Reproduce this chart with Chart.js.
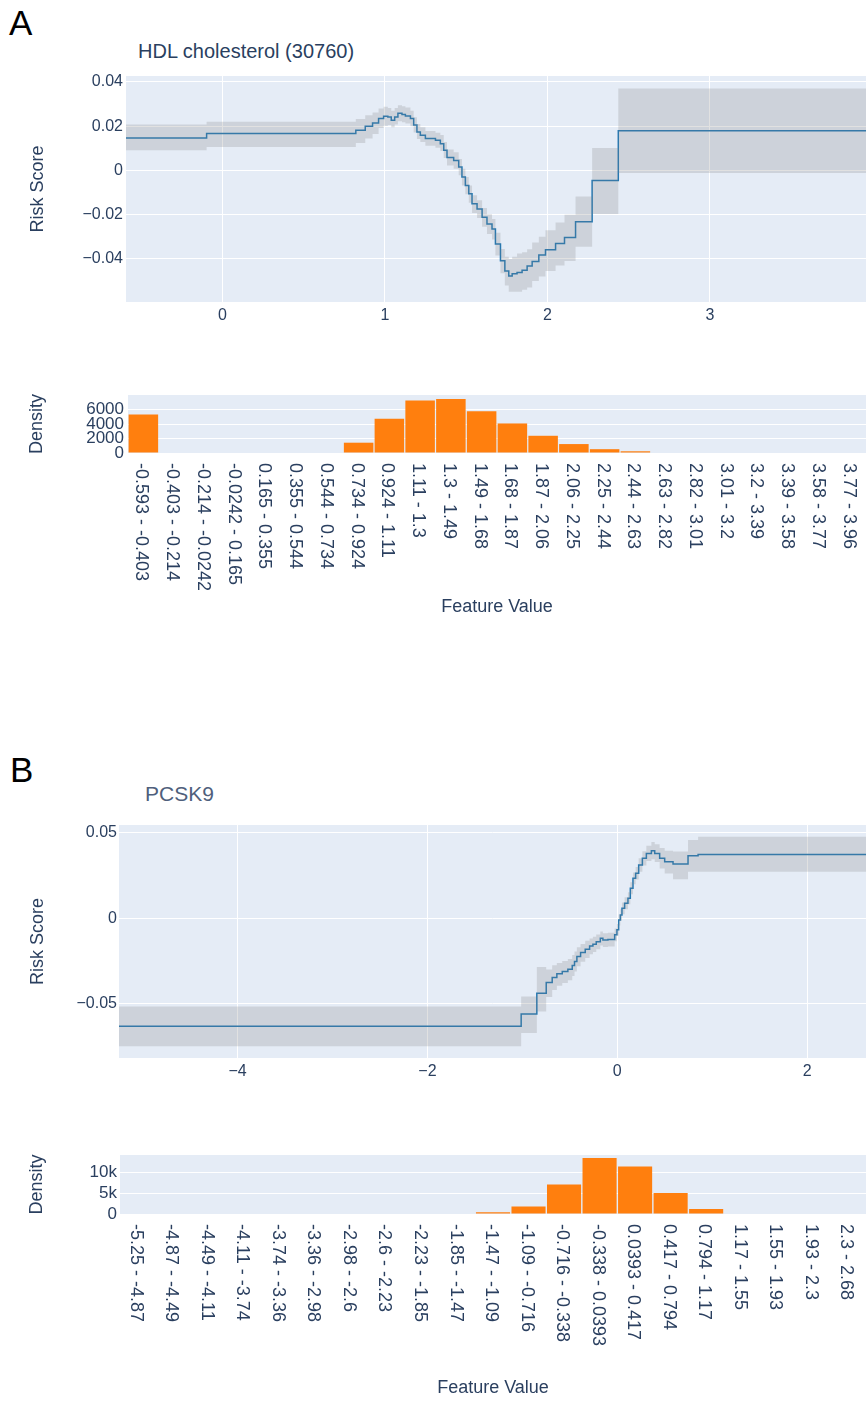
<!DOCTYPE html>
<html>
<head>
<meta charset="utf-8">
<script src="https://cdn.jsdelivr.net/npm/chart.js@4.4.0/dist/chart.umd.min.js"></script>
<style>
  body { margin: 0; background: #fff; width: 866px; height: 1401px; overflow: hidden; position: relative;
         font-family: "Liberation Sans", Arial, sans-serif; }
  .box { position: absolute; left: 0; width: 866px; }
  .panel { position: absolute; font-size: 35px; line-height: 1; color: #000; }
  .title { position: absolute; font-size: 20px; line-height: 1; color: #2a3f5f; white-space: nowrap; }
</style>
</head>
<body>
<div class="panel" style="left:9px; top:5px">A</div>
<div class="title" style="left:138px; top:41px">HDL cholesterol (30760)</div>
<div class="box" style="top:60px; height:268px"><canvas id="lineA"></canvas></div>
<div class="box" style="top:370px; height:250px"><canvas id="histA"></canvas></div>

<div class="panel" style="left:10px; top:752px">B</div>
<div class="title" style="left:145px; top:783px; color:#4f5f7c; font-size:21px">PCSK9</div>
<div class="box" style="top:810px; height:272px"><canvas id="lineB"></canvas></div>
<div class="box" style="top:1130px; height:271px"><canvas id="histB"></canvas></div>

<script>
// ---- A: HDL cholesterol ----
var stepXA = [-0.593, -0.097, 0.821, 0.879, 0.924, 0.961, 0.992, 1.018, 1.039, 1.060, 1.080, 1.105, 1.126,
  1.157, 1.177, 1.197, 1.218, 1.249, 1.311, 1.341, 1.362, 1.382, 1.423, 1.454, 1.474, 1.495, 1.516, 1.536,
  1.567, 1.598, 1.628, 1.659, 1.680, 1.711, 1.738, 1.762, 1.783, 1.813, 1.844, 1.875, 1.906, 1.947, 1.988,
  2.050, 2.105, 2.173, 2.275, 2.436, 3.96];
var riskA = [0.0147, 0.0167, 0.0182, 0.0200, 0.0215, 0.0235, 0.0245, 0.0242, 0.0227, 0.0242, 0.0258, 0.0253, 0.0246,
  0.0235, 0.0205, 0.0174, 0.0159, 0.0144, 0.0136, 0.0121, 0.0091, 0.0058, 0.0045, 0.0015, -0.0030, -0.0068, -0.0106, -0.0151,
  -0.0174, -0.0212, -0.0242, -0.0265, -0.0333, -0.0409, -0.0455, -0.0477, -0.0467, -0.0462, -0.0451, -0.0432, -0.0412, -0.0383, -0.0359,
  -0.0330, -0.0303, -0.0232, -0.0045, 0.0179, 0.0179];
var lowA = [0.0091, 0.0106, 0.0124, 0.0144, 0.0165, 0.0192, 0.0202, 0.0205, 0.0195, 0.0208, 0.0222, 0.0218, 0.0212,
  0.0200, 0.0172, 0.0142, 0.0128, 0.0112, 0.0102, 0.0088, 0.0056, 0.0022, 0.0008, -0.0022, -0.0068, -0.0108, -0.0146, -0.0192,
  -0.0215, -0.0255, -0.0288, -0.0312, -0.0385, -0.0465, -0.0520, -0.0549, -0.0549, -0.0549, -0.0540, -0.0529, -0.0500, -0.0480, -0.0455,
  -0.0430, -0.0410, -0.0345, -0.0197, -0.0012, -0.0012];
var highA = [0.0208, 0.0220, 0.0232, 0.0250, 0.0262, 0.0280, 0.0288, 0.0282, 0.0270, 0.0282, 0.0295, 0.0290, 0.0284,
  0.0270, 0.0240, 0.0210, 0.0195, 0.0178, 0.0170, 0.0160, 0.0128, 0.0095, 0.0082, 0.0052, 0.0008, -0.0030, -0.0068, -0.0112,
  -0.0135, -0.0170, -0.0198, -0.0220, -0.0282, -0.0355, -0.0390, -0.0401, -0.0390, -0.0376, -0.0370, -0.0356, -0.0326, -0.0300, -0.0270,
  -0.0235, -0.0200, -0.0118, 0.0101, 0.0371, 0.0371];
var xTicksA = [0, 1, 2, 3];
var yTicksA = [-0.04, -0.02, 0, 0.02, 0.04];

var binsA = ['-0.593 - -0.403', '-0.403 - -0.214', '-0.214 - -0.0242', '-0.0242 - 0.165', '0.165 - 0.355',
  '0.355 - 0.544', '0.544 - 0.734', '0.734 - 0.924', '0.924 - 1.11', '1.11 - 1.3', '1.3 - 1.49', '1.49 - 1.68',
  '1.68 - 1.87', '1.87 - 2.06', '2.06 - 2.25', '2.25 - 2.44', '2.44 - 2.63', '2.63 - 2.82', '2.82 - 3.01',
  '3.01 - 3.2', '3.2 - 3.39', '3.39 - 3.58', '3.58 - 3.77', '3.77 - 3.96'];
var countsA = [5340, 0, 0, 0, 0, 0, 0, 1430, 4770, 7290, 7490, 5810, 4100, 2390, 1240, 530, 240, 0, 0, 0, 0, 0, 0, 0];
var densTicksA = [0, 2000, 4000, 6000];

// ---- B: PCSK9 ----
var stepXB = [-5.25, -1.013, -0.848, -0.749, -0.686, -0.637, -0.580, -0.521, -0.475, -0.451, -0.426, -0.387,
  -0.338, -0.292, -0.257, -0.222, -0.179, -0.152, -0.099, -0.028, -0.004, 0.014, 0.032, 0.049, 0.077, 0.112,
  0.137, 0.165, 0.193, 0.225, 0.264, 0.306, 0.359, 0.394, 0.446, 0.499, 0.587, 0.745, 0.851, 2.68];
var riskB = [-0.0632, -0.0560, -0.0438, -0.0376, -0.0347, -0.0325, -0.0311, -0.0298, -0.0276, -0.0253, -0.0224, -0.0201,
  -0.0181, -0.0162, -0.0152, -0.0137, -0.0117, -0.0127, -0.0124, -0.0097, -0.0068, -0.0010, 0.0019, 0.0058, 0.0088, 0.0117,
  0.0175, 0.0233, 0.0263, 0.0311, 0.0350, 0.0379, 0.0394, 0.0379, 0.0350, 0.0330, 0.0317, 0.0365, 0.0373, 0.0373];
var lowB = [-0.0749, -0.0671, -0.0545, -0.0460, -0.0420, -0.0395, -0.0378, -0.0362, -0.0338, -0.0312, -0.0280, -0.0255,
  -0.0232, -0.0210, -0.0198, -0.0182, -0.0160, -0.0168, -0.0165, -0.0135, -0.0102, -0.0042, -0.0014, 0.0024, 0.0053, 0.0082,
  0.0140, 0.0198, 0.0226, 0.0272, 0.0308, 0.0335, 0.0345, 0.0328, 0.0290, 0.0262, 0.0228, 0.0272, 0.0272, 0.0272];
var highB = [-0.0516, -0.0457, -0.0285, -0.0300, -0.0275, -0.0262, -0.0250, -0.0238, -0.0215, -0.0195, -0.0170, -0.0150,
  -0.0132, -0.0118, -0.0108, -0.0095, -0.0078, -0.0088, -0.0085, -0.0060, -0.0034, 0.0022, 0.0052, 0.0092, 0.0123, 0.0152,
  0.0210, 0.0268, 0.0300, 0.0350, 0.0392, 0.0423, 0.0445, 0.0432, 0.0410, 0.0395, 0.0390, 0.0457, 0.0476, 0.0476];
var xTicksB = [-4, -2, 0, 2];
var yTicksB = [-0.05, 0, 0.05];

var binsB = ['-5.25 - -4.87', '-4.87 - -4.49', '-4.49 - -4.11', '-4.11 - -3.74', '-3.74 - -3.36', '-3.36 - -2.98',
  '-2.98 - -2.6', '-2.6 - -2.23', '-2.23 - -1.85', '-1.85 - -1.47', '-1.47 - -1.09', '-1.09 - -0.716',
  '-0.716 - -0.338', '-0.338 - 0.0393', '0.0393 - 0.417', '0.417 - 0.794', '0.794 - 1.17', '1.17 - 1.55',
  '1.55 - 1.93', '1.93 - 2.3', '2.3 - 2.68'];
var countsB = [0, 0, 0, 0, 0, 0, 0, 0, 0, 0, 400, 1780, 7070, 13420, 11370, 5030, 1220, 0, 0, 0, 0];
var densTicksB = [0, 5000, 10000];

var FONT = '"Liberation Sans", Arial, sans-serif';
var INK = '#2a3f5f';

// plotly-like plot background
var plotBg = {
  id: 'plotBg',
  beforeDraw: function (chart) {
    var a = chart.chartArea, ctx = chart.ctx;
    ctx.save();
    ctx.fillStyle = '#E5ECF6';
    ctx.fillRect(a.left, a.top, a.right - a.left, a.bottom - a.top);
    ctx.restore();
  }
};

// category labels turned 90deg clockwise, reading downwards
var downLabels = {
  id: 'downLabels',
  afterDraw: function (chart) {
    var s = chart.scales.x, ctx = chart.ctx;
    ctx.save();
    ctx.font = '18px ' + FONT;
    ctx.fillStyle = INK;
    ctx.textAlign = 'left';
    ctx.textBaseline = 'middle';
    chart.data.labels.forEach(function (lab, i) {
      ctx.save();
      ctx.translate(s.getPixelForValue(i) - 2, chart.chartArea.bottom + 10);
      ctx.rotate(Math.PI / 2);
      ctx.fillText(lab, 0, 0);
      ctx.restore();
    });
    ctx.restore();
  }
};

function minus(v) {
  return v < 0 ? '\u2212' + String(-v) : String(v);
}

function steps(xs, ys) {
  return xs.map(function (x, i) { return { x: x, y: ys[i] }; });
}

function riskChart(id, xs, mid, lo, hi, o) {
  var clear = 'rgba(0,0,0,0)';
  return new Chart(document.getElementById(id), {
    type: 'line',
    data: {
      datasets: [
        { data: steps(xs, hi), stepped: true, borderColor: clear, borderWidth: 0, pointRadius: 0,
          fill: '+1', backgroundColor: 'rgba(128,128,128,0.24)' },
        { data: steps(xs, lo), stepped: true, borderColor: clear, borderWidth: 0, pointRadius: 0, fill: false },
        { data: steps(xs, mid), stepped: true, borderColor: '#1f77b4', borderWidth: 1.5, pointRadius: 0, fill: false }
      ]
    },
    options: {
      responsive: true,
      maintainAspectRatio: false,
      animation: false,
      layout: { padding: { top: o.padTop, right: 0, bottom: 0, left: 0 } },
      plugins: { legend: { display: false }, tooltip: { enabled: false } },
      scales: {
        x: {
          type: 'linear', min: o.xMin, max: o.xMax,
          afterBuildTicks: function (s) { s.ticks = o.xTicks.map(function (v) { return { value: v }; }); },
          afterFit: function (s) { s.height = o.xHeight; },
          grid: { color: '#fff', lineWidth: 1, drawTicks: false },
          border: { display: false },
          ticks: { padding: 4, color: INK, font: { family: FONT, size: 16 }, maxRotation: 0, autoSkip: false, callback: minus }
        },
        y: {
          min: o.yMin, max: o.yMax,
          afterBuildTicks: function (s) { s.ticks = o.yTicks.map(function (v) { return { value: v }; }); },
          afterFit: function (s) { s.width = o.yWidth; },
          grid: { color: '#fff', lineWidth: 1, drawTicks: false },
          border: { display: false },
          ticks: { padding: o.yPad, color: INK, font: { family: FONT, size: 16 }, autoSkip: false, callback: minus },
          title: { display: true, text: 'Risk Score', color: INK, font: { family: FONT, size: 18 }, padding: { top: 27, bottom: 0 } }
        }
      }
    },
    plugins: [plotBg]
  });
}

function densityChart(id, bins, counts, o) {
  return new Chart(document.getElementById(id), {
    type: 'bar',
    data: {
      labels: bins,
      datasets: [{ data: counts, backgroundColor: '#ff7f0e', barPercentage: 0.96, categoryPercentage: 1 }]
    },
    options: {
      responsive: true,
      maintainAspectRatio: false,
      animation: false,
      layout: { padding: { top: 25, right: 0, bottom: 0, left: 0 } },
      plugins: { legend: { display: false }, tooltip: { enabled: false } },
      scales: {
        x: {
          afterFit: function (s) { s.height = o.xHeight; },
          grid: { display: false },
          border: { display: false },
          ticks: { display: false },
          title: { display: true, text: 'Feature Value', color: INK, font: { family: FONT, size: 18 }, padding: { top: 0, bottom: 2 } }
        },
        y: {
          min: 0, max: o.yMax,
          afterBuildTicks: function (s) { s.ticks = o.yTicks.map(function (v) { return { value: v }; }); },
          afterFit: function (s) { s.width = o.yWidth; },
          grid: { color: '#fff', lineWidth: 1, drawTicks: false },
          border: { display: false },
          ticks: { padding: o.yPad, color: INK, font: { family: FONT, size: 17 }, autoSkip: false, callback: o.fmt },
          title: { display: true, text: 'Density', color: INK, font: { family: FONT, size: 18 }, padding: { top: 26, bottom: 0 } }
        }
      }
    },
    plugins: [plotBg, downLabels]
  });
}

riskChart('lineA', stepXA, riskA, lowA, highA, {
  padTop: 16, xHeight: 26, yWidth: 126, yPad: 3,
  xMin: -0.593, xMax: 3.96, yMin: -0.0595, yMax: 0.0427, xTicks: xTicksA, yTicks: yTicksA
});
densityChart('histA', binsA, countsA, {
  xHeight: 167, yWidth: 128, yPad: 4, yMax: 8050, yTicks: densTicksA,
  fmt: function (v) { return String(v); }
});

riskChart('lineB', stepXB, riskB, lowB, highB, {
  padTop: 15, xHeight: 24, yWidth: 119, yPad: 2,
  xMin: -5.25, xMax: 2.62, yMin: -0.0817, yMax: 0.0545, xTicks: xTicksB, yTicks: yTicksB
});
densityChart('histB', binsB, countsB, {
  xHeight: 187, yWidth: 120, yPad: 3, yMax: 14150, yTicks: densTicksB,
  fmt: function (v) { return v === 0 ? '0' : (v / 1000) + 'k'; }
});
</script>
</body>
</html>
